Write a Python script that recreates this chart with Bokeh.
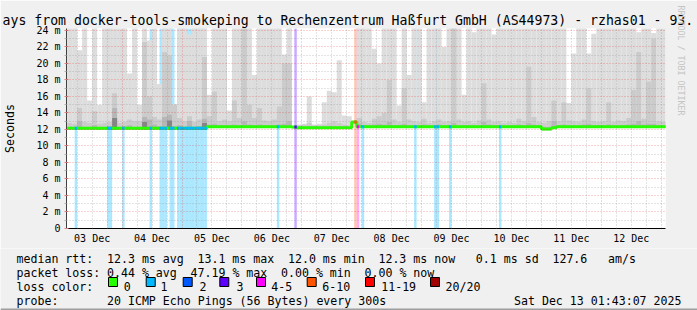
from bokeh.plotting import figure
from bokeh.layouts import column
from bokeh.models import Range1d, FixedTicker, Title, ColumnDataSource
from bokeh.core.properties import value
from bokeh.embed import file_html
from bokeh.resources import INLINE

MONO = "DejaVu Sans Mono"
BG = "#f0f0f0"

# ---------------- data ----------------
# time in hours after 03 Dec 2025 00:00; graph ends Sat Dec 13 01:43:07 2025
END_HOUR = 241.7186
START_HOUR = END_HOUR - 240.0
Y_MAX = 24.24

# 2-hour consolidation bins (start hour of each bin)
bin_start_hours = [2 + 2 * i for i in range(120)]

median_ms = [
    12.15, 12.15, 12.15, 12.15, 12.15, 12.15, 12.15, 12.15, 12.15, 12.15,
    12.15, 12.15, 12.15, 12.15, 12.15, 12.15, 12.15, 12.15, 12.15, 12.15,
    12.15, 12.15, 12.15, 12.15, 12.15, 12.15, 12.15, 12.15, 12.33, 12.33,
    12.33, 12.33, 12.33, 12.33, 12.33, 12.33, 12.33, 12.33, 12.33, 12.33,
    12.33, 12.33, 12.33, 12.33, 12.33, 12.30, 12.22, 12.22, 12.22, 12.22,
    12.22, 12.22, 12.22, 12.22, 12.22, 12.22, 12.22, 12.90, 12.33, 12.33,
    12.33, 12.33, 12.33, 12.33, 12.33, 12.33, 12.33, 12.33, 12.33, 12.33,
    12.33, 12.33, 12.33, 12.33, 12.33, 12.33, 12.33, 12.33, 12.33, 12.33,
    12.33, 12.33, 12.33, 12.33, 12.33, 12.33, 12.33, 12.33, 12.33, 12.33,
    12.33, 12.33, 12.33, 12.33, 12.33, 12.05, 12.05, 12.20, 12.33, 12.33,
    12.33, 12.33, 12.33, 12.33, 12.33, 12.33, 12.33, 12.33, 12.33, 12.33,
    12.33, 12.33, 12.33, 12.33, 12.33, 12.33, 12.33, 12.33, 12.33, 12.33,
]

# outer smoke (max ping)
smoke_max = [
    24.3, 24.3, 21.6, 24.3, 15.5, 24.3, 15.0, 24.3, 24.3, 24.3,
    24.3, 24.3, 18.8, 24.3, 15.0, 24.3, 22.8, 24.3, 17.5, 24.3,
    24.3, 15.1, 24.3, 24.3, 23.5, 24.3, 24.3, 24.3, 16.2, 24.3,
    24.3, 24.3, 14.3, 24.3, 24.3, 24.3, 24.3, 18.6, 24.3, 24.3,
    24.3, 24.3, 24.3, 21.1, 24.3, 12.3, 12.6, 12.7, 16.0, 12.6,
    12.7, 15.3, 16.7, 16.5, 20.4, 13.7, 13.6, 12.9, 24.3, 24.3,
    24.3, 21.8, 20.0, 24.3, 24.3, 24.3, 14.9, 24.3, 18.6, 24.3,
    24.3, 15.3, 24.3, 24.3, 24.3, 22.0, 24.3, 24.3, 24.3, 16.2,
    24.3, 23.8, 24.3, 24.3, 24.3, 23.5, 24.3, 24.3, 24.3, 24.3,
    24.3, 24.3, 24.3, 24.3, 24.3, 24.3, 24.3, 24.3, 24.3, 24.3,
    15.2, 21.2, 24.3, 24.3, 21.2, 23.6, 24.3, 24.3, 24.3, 24.3,
    24.3, 24.3, 24.3, 24.3, 23.8, 24.3, 24.3, 23.7, 24.3, 24.3,
]

# second smoke layer
smoke_p2 = [
    12.8, 12.7, 14.6, 12.9, 12.8, 14.2, 12.7, 12.8, 12.9, 16.4,
    12.8, 12.9, 13.2, 13.0, 13.0, 22.6, 16.0, 13.5, 13.2, 21.4,
    21.0, 15.0, 13.4, 13.0, 13.6, 12.9, 13.2, 20.8, 13.6, 16.6,
    13.0, 13.2, 13.0, 15.5, 13.4, 24.3, 15.0, 13.4, 14.6, 13.1,
    13.0, 13.2, 14.8, 20.0, 20.0, 12.3, 12.5, 12.6, 12.8, 12.5,
    12.5, 12.6, 12.8, 13.0, 12.8, 12.6, 12.5, 12.9, 13.4, 12.9,
    12.8, 13.3, 13.6, 14.0, 18.0, 13.2, 12.9, 17.0, 13.2, 13.0,
    12.9, 13.3, 12.8, 13.0, 13.2, 12.9, 13.0, 24.3, 13.2, 12.9,
    13.0, 12.8, 13.1, 17.6, 13.2, 12.9, 13.0, 12.8, 12.9, 12.8,
    13.3, 13.0, 19.6, 13.5, 12.9, 12.8, 13.0, 15.5, 13.0, 15.3,
    13.1, 13.0, 12.9, 13.2, 17.0, 13.0, 12.9, 13.0, 15.3, 12.9,
    13.1, 13.0, 13.4, 16.8, 21.4, 13.3, 17.8, 23.0, 13.0, 12.9,
]

# third smoke layer
smoke_p3 = [
    12.3, 12.3, 13.0, 12.3, 12.3, 12.5, 12.3, 12.3, 12.4, 14.6,
    12.3, 12.4, 12.5, 12.3, 12.3, 13.5, 13.2, 12.6, 12.4, 13.5,
    13.8, 12.4, 12.5, 12.3, 13.0, 12.3, 12.4, 13.3, 12.6, 12.7,
    12.5, 12.5, 12.5, 12.6, 12.5, 13.0, 12.6, 12.5, 12.6, 12.5,
    12.5, 12.5, 12.6, 12.7, 13.0, 12.3, 12.37, 12.37, 12.4, 12.37,
    12.37, 12.37, 12.4, 12.4, 12.4, 12.37, 12.37, 12.9, 12.7, 12.5,
    12.5, 12.6, 12.7, 12.6, 12.9, 12.5, 12.5, 12.7, 12.5, 12.5,
    12.5, 12.6, 12.5, 12.5, 12.6, 12.5, 12.5, 12.8, 12.5, 12.5,
    12.5, 12.5, 12.5, 12.9, 12.6, 12.5, 12.5, 12.5, 12.5, 12.5,
    12.6, 12.5, 12.8, 12.6, 12.5, 12.3, 12.3, 13.0, 12.5, 12.6,
    12.5, 12.5, 12.5, 12.6, 12.7, 12.5, 12.5, 12.5, 12.6, 12.5,
    12.5, 12.5, 12.6, 12.7, 13.0, 12.6, 12.7, 12.7, 12.5, 12.5,
]

# darkest smoke core (only where visible)
dark_bins = [9, 15, 20, 27]
dark_tops = [13.4, 12.9, 13.1, 12.8]

# hourly packet loss events (hour index, lost pings of 20)
loss_hours = [5, 18, 19, 24, 35, 39, 40, 41, 43, 44, 46, 47, 48, 49, 50, 51,
              52, 53, 54, 55, 56, 57, 86, 93, 117, 118, 120, 141, 149, 150,
              155, 175]
loss_counts = [1, 1, 1, 1, 1, 1, 1, 1, 1, 1, 1, 1, 1, 1, 1, 1,
               1, 1, 1, 1, 1, 1, 1, 3, 7, 4, 1, 1, 1, 1,
               1, 1]

day_label_hours = [12, 36, 60, 84, 108, 132, 156, 180, 204, 228]
day_labels = ["03 Dec", "04 Dec", "05 Dec", "06 Dec", "07 Dec",
              "08 Dec", "09 Dec", "10 Dec", "11 Dec", "12 Dec"]
y_ticks = [0, 2, 4, 6, 8, 10, 12, 14, 16, 18, 20, 22, 24]
y_minor = [1, 3, 5, 7, 9, 11, 13, 15, 17, 19, 21, 23]
y_tick_labels = ["0", "2 m", "4 m", "6 m", "8 m", "10 m", "12 m", "14 m",
                 "16 m", "18 m", "20 m", "22 m", "24 m"]

legend_names = ["0", "1", "2", "3", "4-5", "6-10", "11-19", "20/20"]
legend_colors = ["#26ff00", "#00b8ff", "#0059ff", "#5e00ff", "#ff00ff",
                 "#ff5500", "#ff0000", "#a10000"]

# statistics legend, split in column-aligned pieces (column, text)
stat_rows = [
    [(0, "median rtt:"), (13, "12.3 ms avg"), (26, "13.1 ms max"),
     (39, "12.0 ms min"), (52, "12.3 ms now"), (66, "0.1 ms sd"),
     (77, "127.6"), (85, "am/s")],
    [(0, "packet loss:"), (13, "0.44 % avg"), (25, "47.19 % max"),
     (38, "0.00 % min"), (50, "0.00 % now")],
    [(0, "loss color:")],
    [(0, "probe:"), (13, "20 ICMP Echo Pings (56 Bytes) every 300s")],
]
TITLE = "ays from docker-tools-smokeping to Rechenzentrum Haßfurt GmbH (AS44973) - rzhas01 - 93."
STAMP = "Sat Dec 13 01:43:07 2025"


def loss_color(n):
    if n <= 0:
        return legend_colors[0]
    if n == 1:
        return legend_colors[1]
    if n == 2:
        return legend_colors[2]
    if n == 3:
        return legend_colors[3]
    if n <= 5:
        return legend_colors[4]
    if n <= 10:
        return legend_colors[5]
    if n <= 19:
        return legend_colors[6]
    return legend_colors[7]


# ---------------- main graph ----------------
MAIN_H = 248
p = figure(width=697, height=MAIN_H,
           x_range=Range1d(START_HOUR, END_HOUR),
           y_range=Range1d(0, Y_MAX),
           output_backend="svg", toolbar_location=None,
           min_border_left=66, min_border_right=31,
           min_border_top=28, min_border_bottom=MAIN_H - 228,
           background_fill_color="white", border_fill_color=BG,
           outline_line_color=None)

p.add_layout(Title(text=TITLE, align="left", offset=-64, text_font=MONO,
                   text_font_size="13.2px", text_font_style="normal",
                   text_color="#000000", standoff=2), "above")
p.add_layout(Title(text="RRDTOOL / TOBI OETIKER", align="left", offset=-23,
                   text_font=MONO, text_font_size="8.3px",
                   text_font_style="normal", text_color="#c4c4c4",
                   standoff=20), "right")

# loss background bars
lsrc = ColumnDataSource(dict(
    left=loss_hours,
    right=[h + 1 for h in loss_hours],
    top=[Y_MAX] * len(loss_hours),
    color=[loss_color(n) for n in loss_counts],
))
p.quad(left="left", right="right", bottom=0, top="top", source=lsrc,
       fill_color="color", fill_alpha=0.33, line_color=None)

# smoke
bottoms = [m - 0.15 for m in median_ms]
rights = [h + 2 for h in bin_start_hours]
for tops, col in ((smoke_max, "#dddddd"), (smoke_p2, "#cbcbcb"),
                  (smoke_p3, "#b6b6b6")):
    src = ColumnDataSource(dict(left=bin_start_hours, right=rights,
                                bottom=bottoms, top=tops))
    p.quad(left="left", right="right", bottom="bottom", top="top",
           source=src, fill_color=col, line_color=None)
dsrc = ColumnDataSource(dict(
    left=[bin_start_hours[i] for i in dark_bins],
    right=[rights[i] for i in dark_bins],
    bottom=[bottoms[i] for i in dark_bins],
    top=dark_tops))
p.quad(left="left", right="right", bottom="bottom", top="top", source=dsrc,
       fill_color="#858585", line_color=None)

# median line (green), coloured by loss where pings were lost
step_x = bin_start_hours + [rights[-1]]
step_y = median_ms + [median_ms[-1]]
p.step(step_x, step_y, mode="after", line_color=legend_colors[0],
       line_width=3)
seg_y = [median_ms[(h - 2) // 2] for h in loss_hours]
p.segment(x0=loss_hours, x1=[h + 1 for h in loss_hours], y0=seg_y, y1=seg_y,
          line_color=[loss_color(n) for n in loss_counts], line_width=3)

# axes
p.yaxis.ticker = FixedTicker(ticks=y_ticks, minor_ticks=y_minor)
p.yaxis.major_label_overrides = {t: l for t, l in zip(y_ticks, y_tick_labels)}
p.yaxis.major_label_text_font = MONO
p.yaxis.major_label_text_font_size = "10px"
p.yaxis.major_label_text_color = "#000000"
p.yaxis.major_label_standoff = 4
p.yaxis.major_tick_out = 2
p.yaxis.major_tick_in = 2
p.yaxis.minor_tick_out = 2
p.yaxis.minor_tick_in = 0
p.yaxis.major_tick_line_color = "#e08080"
p.yaxis.minor_tick_line_color = "#b0b0b0"
p.yaxis.axis_line_color = "#404040"
p.yaxis.axis_label = "Seconds"
p.yaxis.axis_label_text_font = MONO
p.yaxis.axis_label_text_font_size = "11.6px"
p.yaxis.axis_label_text_font_style = "normal"
p.yaxis.axis_label_text_color = "#000000"
p.yaxis.axis_label_standoff = 16

p.xaxis.ticker = FixedTicker(ticks=day_label_hours)
p.xaxis.major_label_overrides = {t: l for t, l in zip(day_label_hours, day_labels)}
p.xaxis.major_label_text_font = MONO
p.xaxis.major_label_text_font_size = "10px"
p.xaxis.major_label_text_color = "#000000"
p.xaxis.major_tick_line_color = None
p.xaxis.major_tick_out = 0
p.xaxis.major_tick_in = 0
p.xaxis.minor_tick_line_color = None
p.xaxis.major_label_standoff = 4
p.xaxis.axis_line_color = "#000000"

p.xgrid.ticker = FixedTicker(ticks=[24, 48, 72, 96, 120, 144, 168, 192, 216, 240],
                             minor_ticks=[h for h in range(6, 242, 6) if h % 24])
p.ygrid.ticker = FixedTicker(ticks=y_ticks, minor_ticks=y_minor)
for g in (p.xgrid, p.ygrid):
    g.grid_line_color = "#ee0000"
    g.grid_line_alpha = 0.35
    g.grid_line_dash = "1 2"
    g.minor_grid_line_color = "#909090"
    g.minor_grid_line_alpha = 0.5
    g.minor_grid_line_dash = "1 2"
    g.level = "annotation"

# ---------------- legend strip (pixel space) ----------------
LEG_H = 310 - MAIN_H
CHAR_W = 6.96
leg = figure(width=697, height=LEG_H, x_range=Range1d(0, 697),
             y_range=Range1d(LEG_H, 0), output_backend="svg",
             toolbar_location=None, x_axis_type=None, y_axis_type=None,
             min_border=0, min_border_left=0, min_border_right=0,
             min_border_top=0, min_border_bottom=0,
             background_fill_color=BG, border_fill_color=BG,
             outline_line_color=None)
leg.xgrid.visible = False
leg.ygrid.visible = False
for fig in (p, leg):
    if hasattr(fig, "frame_align"):
        fig.frame_align = False

row_base = [10, 24, 38, 52]
tx, ty, tt = [], [], []
for base, row in zip(row_base, stat_rows):
    for col, t in row:
        tx.append(16 + col * CHAR_W)
        ty.append(base)
        tt.append(t)
leg.text(x=tx, y=ty, text=tt, text_font=value(MONO),
         text_font_size=value("11.6px"), text_color="#000000",
         text_baseline="alphabetic", text_align="left")
leg.text(x=[681], y=[row_base[3]], text=[STAMP], text_font=value(MONO),
         text_font_size=value("11.6px"), text_color="#000000",
         text_baseline="alphabetic", text_align="right")

swatch_x = [108, 145.7, 182.7, 219.3, 256, 306.7, 365, 430]
label_x = [123.3, 160, 199, 236, 270.7, 321.7, 380.7, 445]
leg.rect(x=[sx + 4.5 for sx in swatch_x], y=[row_base[2] - 4.5] * 8,
         width=9, height=9, fill_color=legend_colors, line_color="#000000",
         line_width=1)
leg.text(x=label_x, y=[row_base[2]] * 8, text=legend_names,
         text_font=value(MONO), text_font_size=value("11.6px"),
         text_color="#000000", text_baseline="alphabetic", text_align="left")

# 3-D frame shade along the bottom edge of the image
leg.segment(x0=[0], x1=[697], y0=[LEG_H - 1], y1=[LEG_H - 1],
            line_color="#9e9e9e", line_width=2)

layout = column(p, leg, spacing=0)
open("out.html", "w").write(file_html(layout, INLINE))
